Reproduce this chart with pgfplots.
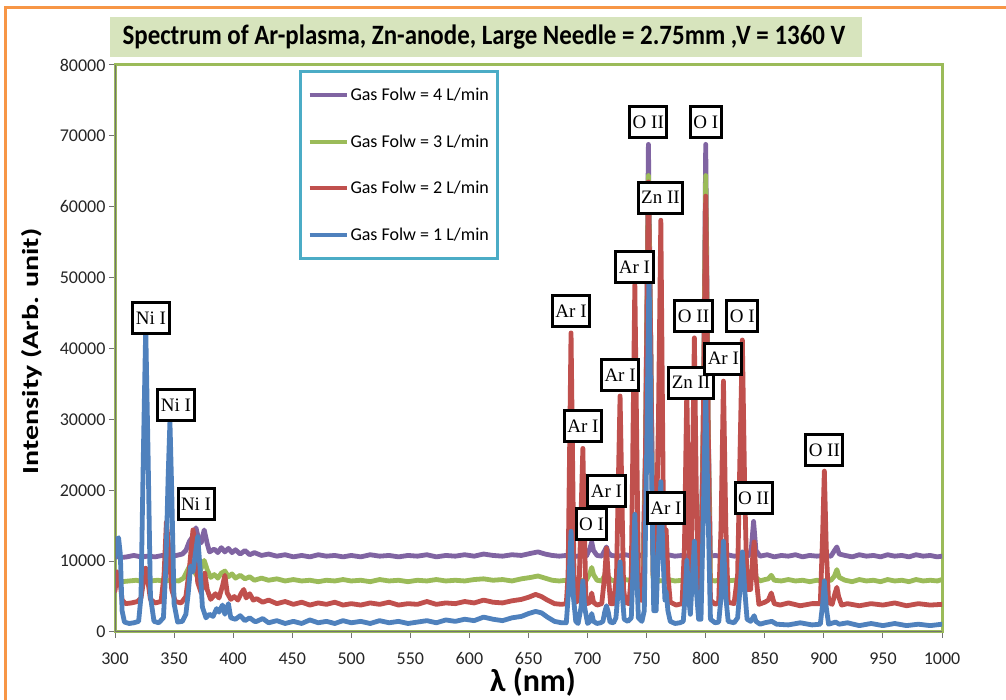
\documentclass[border=0pt]{standalone}
\usepackage{pgfplots}
\pgfplotsset{compat=1.18}
\usepackage{fontspec}
\setmainfont{Carlito}
\newfontfamily\lblfont{Liberation Serif}

\definecolor{cpurple}{HTML}{8064A2}
\definecolor{cgreen}{HTML}{9BBB59}
\definecolor{cred}{HTML}{C0504D}
\definecolor{cblue}{HTML}{4F81BD}
\definecolor{corange}{HTML}{F79646}
\definecolor{ctitle}{HTML}{D7E4BD}
\definecolor{clegend}{HTML}{4BACC6}

\tikzset{lbl/.style={draw=black, line width=3pt, fill=white, font=\lblfont\fontsize{19}{19}\selectfont,
    inner xsep=3pt, inner ysep=0pt, minimum height=31pt}}

\begin{document}
\begin{tikzpicture}[x=1pt,y=1pt]
\path[use as bounding box] (0,0) rectangle (1006,700);
\fill[white] (0,0) rectangle (1006,700);
\draw[corange, line width=3pt] (5,-5) -- (5,692) -- (1012,692);

% title
\fill[ctitle] (110,643) rectangle (862,683);
\node[font=\bfseries\fontsize{28}{28}\selectfont] at (484,663)
  {\scalebox{0.89}[1]{Spectrum of Ar-plasma, Zn-anode, Large Needle = 2.75mm ,V = 1360 V}};

\begin{axis}[
  at={(115pt,68pt)}, anchor=south west,
  width=827pt, height=567pt, scale only axis,
  xmin=300, xmax=1000, ymin=0, ymax=80000,
  xtick={300,350,...,1000},
  ytick={0,10000,...,80000},
  scaled y ticks=false,
  /pgf/number format/1000 sep={},
  /pgf/number format/assume math mode=true,
  tick label style={font=\fontsize{18}{18}\selectfont, text=black!85},
  xticklabel style={yshift=-11pt},
  axis line style={cgreen, line width=3pt},
  tick style={black!55, line width=1pt},
  major tick length=6pt,
  tick align=outside, tick pos=left,
  xlabel={λ (nm)},
  ylabel={\scalebox{1.3}[1]{Intensity (Arb. unit)}},
  xlabel style={font=\bfseries\fontsize{32}{32}\selectfont, at={(axis description cs:0.5054,-0.088)}, anchor=center},
  ylabel style={font=\bfseries\fontsize{23}{23}\selectfont, at={(axis description cs:-0.1004,0.495)}, anchor=center},
  every axis plot/.append style={line width=4.8pt, line join=round, line cap=round},
  legend style={at={(0.2225,0.9912)}, anchor=north west, draw=clegend, line width=3pt,
    fill=white, font=\fontsize{18}{18}\selectfont, inner xsep=7pt, inner ysep=15pt,
    row sep=28.5pt},
  legend cell align=left,
  legend image code/.code={\draw[#1, line width=4pt, line cap=butt] (0pt,0pt) -- (37pt,0pt);},
]

% Gas flow 4 L/min
\addplot[cpurple] coordinates {
(300,10700) (305,10500) (310,10600) (316,10800) (322,10600) (328,10700) (334,10600) (340,10800)
(346,10700) (352,10800) (357,11000) (360,11500) (363,12800) (366,13500) (368.5,14700) (371,13000)
(373,12600) (375.5,14400) (378,12500) (380,11300) (384,11700) (387,11200) (390,11900) (393,11300)
(396,11800) (399,11200) (402,11600) (406,11000) (410,11500) (414,10900) (418,11200) (424,10800)
(430,11000) (437,10700) (444,10900) (451,10600) (458,10800) (465,10600) (472,10900) (479,10700)
(486,10800) (493,10600) (500,10800) (508,10600) (516,10900) (524,10700) (532,10800) (540,10600)
(548,10800) (556,10700) (564,10900) (572,10600) (580,10800) (588,10700) (596,10900) (604,10700)
(612,11000) (620,10800) (628,10700) (636,10900) (644,10800) (652,11100) (658,11300) (664,11000)
(670,10800) (676,10700) (682,10800) (688,10600) (694,10800) (699,10700) (702,11800) (703.5,12700)
(705,11500) (708,10800) (712,10700) (714.5,11500) (716,12000) (717.5,11200) (720,10800) (726,10700)
(732,10900) (738,10700) (744,10800) (747,10700) (749,25000) (751.5,68800) (753.5,40000) (755.5,10900)
(758,10800) (764,10700) (768,10900) (774,10700) (780,10800) (786,10700) (792,10800) (796,10700)
(798,30000) (800,68800) (802,30000) (804,10700) (808,10800) (812,10700) (818,10900) (824,10700)
(830,10800) (836,10700) (838.5,11500) (840.5,15600) (842.5,11500) (846,10700) (852,10900) (858,10600)
(864,10800) (870,10700) (876,10900) (882,10600) (888,10800) (894,10700) (900,10800) (906,10700)
(909,11500) (911,12000) (913,11000) (918,10800) (924,10600) (930,10900) (936,10700) (942,10800)
(948,10600) (954,10900) (960,10700) (966,10800) (972,10600) (978,10900) (984,10700) (990,10800)
(996,10600) (1000,10700)
};
\addlegendentry{Gas Folw = 4 L/min}

% Gas flow 3 L/min
\addplot[cgreen] coordinates {
(300,7300) (306,7100) (312,7200) (318,7300) (324,7100) (330,7200) (336,7300) (342,7200)
(348,7300) (354,7200) (358,7600) (361,8600) (364.5,9700) (367,8600) (369,8000) (371,8300)
(373,9000) (375.5,10100) (378,8800) (381,7700) (384,8100) (387,7600) (390,8300) (393,8600)
(396,7800) (399,8200) (402,7600) (406,8000) (410,7500) (414,7800) (418,7300) (424,7600)
(430,7300) (437,7500) (444,7200) (451,7400) (458,7200) (465,7300) (472,7100) (479,7300)
(486,7200) (493,7400) (500,7200) (508,7300) (516,7100) (524,7400) (532,7200) (540,7300)
(548,7100) (556,7300) (564,7200) (572,7400) (580,7200) (588,7300) (596,7200) (604,7400)
(612,7500) (620,7300) (628,7400) (636,7200) (644,7500) (652,7700) (658,7900) (664,7600)
(670,7300) (676,7200) (682,7300) (688,7200) (694,7300) (699,7300) (702,8300) (703.5,9100)
(705,8100) (708,7300) (712,7200) (714.5,8000) (716,8500) (717.5,7800) (720,7300) (726,7200)
(732,7400) (738,7200) (744,7300) (747,7300) (749,25000) (751.5,64400) (753.5,40000) (755.5,7600)
(758,7300) (764,7200) (768,7400) (774,7200) (780,7300) (786,7200) (792,7300) (796,7300)
(798,30000) (800,64400) (802,30000) (804,7300) (808,7200) (812,7400) (818,7200) (824,7300)
(830,7200) (836,7300) (838.5,7800) (840.5,11000) (842.5,7700) (846,7200) (850,7400) (853,7500)
(855.5,8000) (858,7300) (864,7200) (870,7400) (876,7200) (882,7300) (888,7100) (894,7300)
(900,7200) (906,7300) (909,7900) (911,8800) (913,7700) (918,7300) (924,7100) (930,7400)
(936,7200) (942,7300) (948,7100) (954,7400) (960,7200) (966,7300) (972,7100) (978,7400)
(984,7200) (990,7300) (996,7200) (1000,7400)
};
\addlegendentry{Gas Folw = 3 L/min}

% Gas flow 2 L/min
\addplot[cred] coordinates {
(300,5800) (302,8500) (304,7500) (306,4500) (309,4000) (314,4100) (319,4300) (322,4800)
(324,7000) (326,9000) (328,7000) (330,4600) (334,4100) (339,4300) (341.5,8000) (343.5,15500)
(345.5,12000) (348,6000) (351,4300) (356,4100) (360,5000) (363,9000) (366,14400) (368,12000)
(370,7000) (373,5500) (376,8300) (378,6000) (381,4600) (385,5400) (388,4800) (391,6500)
(393,8000) (395,5500) (398,4600) (401,5000) (404,4500) (407,5500) (409,6000) (411,4800)
(414,5400) (417,4500) (420,4700) (425,4200) (430,4500) (437,4000) (444,4300) (451,3900)
(458,4200) (465,3800) (472,4100) (479,3900) (486,4200) (493,3800) (500,4000) (508,3800)
(516,4100) (524,3900) (532,4200) (540,3800) (548,4000) (556,3900) (564,4300) (572,3900)
(580,4100) (588,4000) (596,4300) (604,4100) (612,4500) (620,4200) (628,4100) (636,4400)
(644,4600) (650,4900) (656,5300) (661,5000) (666,4500) (672,4000) (678,3900) (682,4000)
(683.5,8000) (686,42200) (688.5,8000) (690,4200) (692.5,4500) (696,25900) (698.5,5000) (700,4000)
(702,4200) (703.5,5500) (705,4200) (708,3800) (712,4000) (714.5,8000) (716,11800) (717.5,8000)
(719.5,4000) (722,4000) (724.5,8000) (727.5,33300) (730.5,6000) (732,4200) (735,4000) (737,8000)
(740,49000) (743,8000) (745,4500) (747,4500) (749,25000) (751.5,63500) (753.5,40000) (755.5,8000)
(757.5,8000) (760,30000) (762,58100) (764,20000) (765.5,12000) (766.5,14400) (768,8000) (770,4200)
(775,3800) (780,4000) (782,12000) (784,34200) (786,12000) (787.5,8000) (789,25000) (790.4,41500)
(792,20000) (794,5000) (796,5000) (798,30000) (800,61500) (802,30000) (804,4500) (808,3900)
(811,4200) (813,15000) (815,35400) (817,15000) (819,4200) (824,4000) (827,8000) (829,25000)
(831,41200) (833,20000) (835,6000) (838,6000) (839.5,10000) (841,12700) (842.5,8000) (845,3900)
(850,4200) (853,4500) (855.5,5500) (858,4000) (863,3800) (870,4100) (880,3700) (890,4000)
(897,4000) (899,14000) (900.4,22700) (902,12000) (904,4200) (907,3900) (909.5,5500) (911,6300)
(912.5,5000) (915,3800) (920,4000) (930,3700) (940,4000) (950,3800) (960,4100) (970,3700)
(980,4000) (990,3800) (1000,3900)
};
\addlegendentry{Gas Folw = 2 L/min}

% Gas flow 1 L/min
\addplot[cblue] coordinates {
(300,10500) (301.5,13000) (303,13300) (304.5,11000) (306,3000) (308,1400) (312,1200) (316,1300)
(320,1500) (322,5000) (324,25000) (326,42900) (328,25000) (330,5000) (333,1500) (337,1300)
(341,2000) (343,9000) (345,22000) (346.5,29700) (348,20000) (350,4000) (353,1400) (357,1500)
(360,2500) (362,5500) (364,9300) (366,8500) (368,11000) (370,13450) (372,9000) (374,3500)
(377,2000) (380,2500) (383,2200) (386,3300) (388,2800) (391,3800) (393,2500) (396,4000)
(398,2000) (402,1800) (406,2300) (410,1600) (414,2000) (418,1500) (420,1500) (425,1900)
(430,1300) (437,1600) (444,1200) (451,1500) (458,1200) (465,1700) (472,1300) (479,1500)
(486,1200) (493,1600) (500,1300) (508,1500) (516,1200) (524,1600) (532,1300) (540,1500)
(548,1200) (556,1400) (564,1600) (572,1300) (580,1700) (588,1500) (596,1800) (604,1600)
(612,2100) (620,1800) (628,1600) (636,2000) (644,2200) (650,2600) (656,2900) (661,2700)
(666,2100) (672,1500) (678,1300) (682,1300) (684,6000) (686,14200) (688,5000) (690,1500)
(692,1200) (694.5,3500) (696,7200) (697.5,3500) (700,1200) (702,1500) (703.5,2600) (705,1500)
(708,1200) (711,1300) (713,1500) (714.5,2800) (716,3700) (717.5,2800) (719,1400) (722,1300)
(724,2000) (726,6000) (727.5,9900) (729,6000) (731,1800) (734,1500) (737,2000) (738.5,9000)
(740,16600) (741.5,9000) (743,2000) (746,1500) (748,3000) (750,25000) (752,50900) (754,25000)
(756,3000) (758,3000) (760,12000) (762,21200) (764,10000) (765.5,4500) (766.5,5700) (768,3000)
(770,1500) (774,1200) (778,1300) (781,1500) (782.5,5000) (784,10100) (785.5,5000) (787,2500)
(788.5,7000) (790.4,12800) (792,6000) (794,1800) (796,1800) (798,17000) (800,34000) (802,17000)
(804,1800) (808,1300) (811,1400) (813,5000) (815,12800) (817,5000) (819,1500) (824,1300)
(827,2000) (829,6000) (831,11300) (833,6000) (835,1800) (838,1500) (840,2000) (841,2300)
(842.5,1500) (846,1100) (850,1300) (856,1500) (860,1100) (870,1000) (880,1300) (890,1000)
(897,1100) (899,4000) (900.4,7200) (902,3500) (904,1100) (910,1400) (913,1100) (920,1300)
(930,900) (940,1200) (950,900) (960,1200) (970,900) (980,1100) (990,900) (1000,1100)
};
\addlegendentry{Gas Folw = 1 L/min}

\draw[black!55, line width=1.2pt] (rel axis cs:0,1) -- (rel axis cs:0,0) -- (rel axis cs:1,0);

% line labels
\node[lbl] at (axis cs:330.5,44300) {Ni I};
\node[lbl] at (axis cs:351.6,32000) {Ni I};
\node[lbl] at (axis cs:368.6,18060) {Ni I};
\node[lbl] at (axis cs:686,45290) {Ar I};
\node[lbl] at (axis cs:696.1,29070) {Ar I};
\node[lbl] at (axis cs:703.3,15240) {O I};
\node[lbl] at (axis cs:716,19890) {Ar I};
\node[lbl] at (axis cs:727.5,36260) {Ar I};
\node[lbl] at (axis cs:739.7,51500) {Ar I};
\node[lbl] at (axis cs:751.4,71920) {O II};
\node[lbl] at (axis cs:761.7,61300) {Zn II};
\node[lbl] at (axis cs:766.4,17500) {Ar I};
\node[lbl] at (axis cs:787.6,35200) {Zn II};
\node[lbl] at (axis cs:789.7,44590) {O II};
\node[lbl] at (axis cs:800,71920) {O I};
\node[lbl] at (axis cs:814.9,38570) {Ar I};
\node[lbl] at (axis cs:831,44590) {O I};
\node[lbl] at (axis cs:840.5,18840) {O II};
\node[lbl] at (axis cs:900.4,25680) {O II};
\end{axis}
\end{tikzpicture}
\end{document}
